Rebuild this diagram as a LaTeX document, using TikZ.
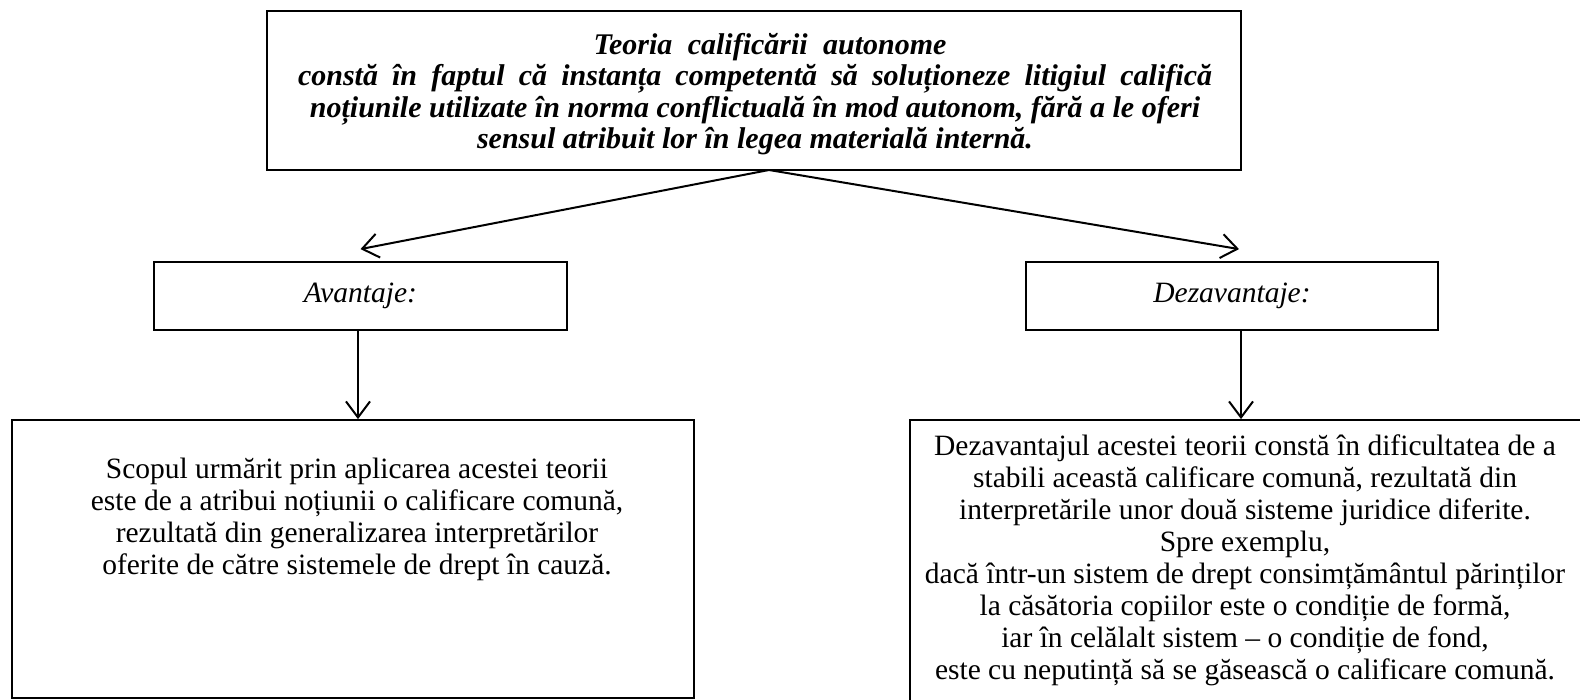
\documentclass[tikz,border=0pt]{standalone}
\usepackage{fontspec}
\setmainfont{Liberation Serif}
\usetikzlibrary{arrows.meta}
\newcommand\myfsz{\fontsize{29.5}{32}\selectfont}
\newcommand\mytopfsz{\fontsize{30}{31.4}\selectfont}
\begin{document}
\begin{tikzpicture}[x=1pt,y=-1pt,
  box/.style={draw, line width=1.8pt, inner sep=0pt},
  txt/.style={align=center, inner sep=0pt, font=\myfsz},
  arr/.style={line width=2pt, -{Straight Barb[length=16pt,width=24pt]}}]
\useasboundingbox (0,0) rectangle (1580,700);
\clip (0,0) rectangle (1580,700);

\node[box, minimum width=974pt, minimum height=159pt] (top) at (754,90.5) {};
\node[txt, font=\mytopfsz\bfseries\itshape] (toptext) at (755,94)
  {\hspace*{30pt}\makebox[353pt][s]{Teoria calificării autonome}\\
   \makebox[914pt][s]{constă în faptul că instanța competentă să soluționeze litigiul califică}\\
   noțiunile utilizate în norma conflictuală în mod autonom, fără a le oferi\\
   sensul atribuit lor în legea materială internă.};

\node[box, minimum width=413pt, minimum height=68pt, font=\myfsz\itshape] (av) at (360.5,296) {Avantaje:};
\node[box, minimum width=412pt, minimum height=68pt, font=\myfsz\itshape] (dz) at (1232,296) {Dezavantaje:};

\node[box, minimum width=682pt, minimum height=278pt] (lb) at (353,559) {};
\node[txt] (lbtext) at (357,519)
  {Scopul urmărit prin aplicarea acestei teorii\\
   este de a atribui noțiunii o calificare comună,\\
   rezultată din generalizarea interpretărilor\\
   oferite de către sistemele de drept în cauză.};

\node[box, minimum width=710pt, minimum height=320pt] (rb) at (1265,580) {};
\node[txt] (rbtext) at (1245,560)
  {Dezavantajul acestei teorii constă în dificultatea de a\\
   stabili această calificare comună, rezultată din\\
   interpretările unor două sisteme juridice diferite.\\
   Spre exemplu,\\
   dacă într-un sistem de drept consimțământul părinților\\
   la căsătoria copiilor este o condiție de formă,\\
   iar în celălalt sistem – o condiție de fond,\\
   este cu neputință să se găsească o calificare comună.};

\coordinate (apex) at (769,170);
\draw[arr] (apex) -- ([yshift=12pt]av.north);
\draw[arr] (apex) -- ([xshift=7pt,yshift=12pt]dz.north);
\draw[arr] ([xshift=-2.5pt]av.south) -- ([xshift=-2.5pt]av.south |- lb.north);
\draw[arr] ([xshift=9pt]dz.south) -- ([xshift=9pt]dz.south |- rb.north);
\end{tikzpicture}
\end{document}
